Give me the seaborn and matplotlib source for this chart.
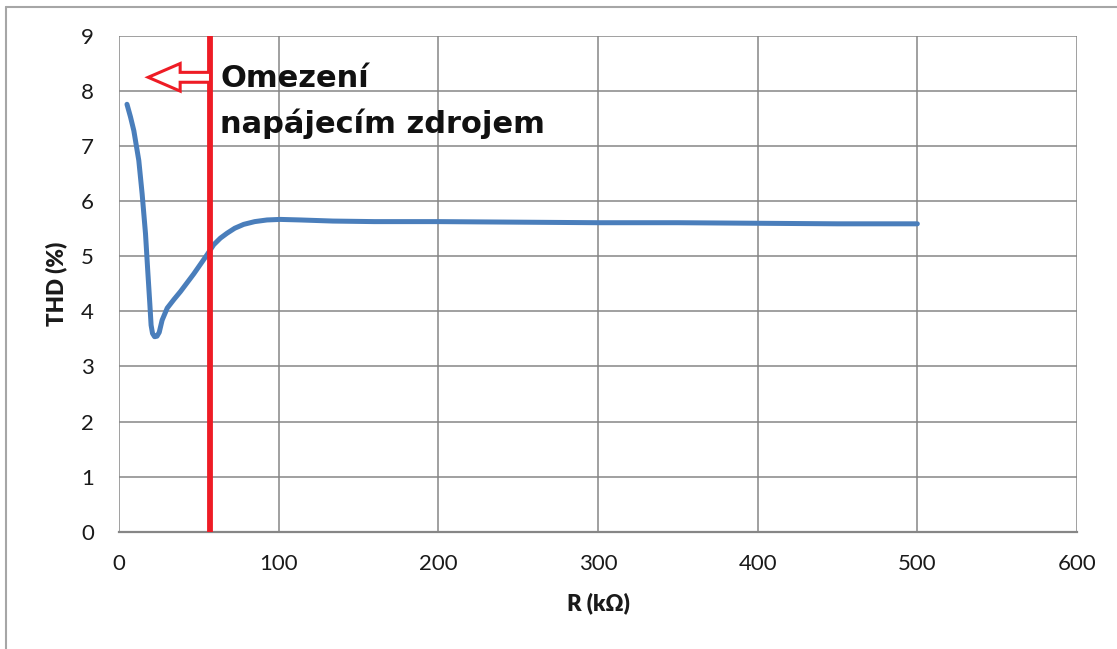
import matplotlib
matplotlib.use("Agg")
import matplotlib.pyplot as plt
from matplotlib.patches import FancyArrow
from matplotlib.lines import Line2D
import pandas as pd
import seaborn as sns

# Measured THD versus load resistance
r_kohm = [5, 7.2, 9.3, 12.4, 14.5, 16.6, 18.0, 19.3, 20.1, 21.0, 22.3, 23.8, 25.2,
          27.0, 30.2, 34.5, 38.5, 46.8, 55.2, 59.3, 63.5, 67.7, 72.5, 78.1, 85, 92.7,
          101, 113.6, 134, 160, 200, 250, 300, 350, 400, 450, 500]
thd_pct = [7.76, 7.53, 7.28, 6.74, 6.13, 5.41, 4.74, 4.14, 3.75, 3.60, 3.54, 3.55, 3.62,
           3.84, 4.06, 4.22, 4.36, 4.68, 5.03, 5.21, 5.33, 5.42, 5.51, 5.58, 5.63, 5.66,
           5.67, 5.66, 5.64, 5.63, 5.63, 5.62, 5.61, 5.61, 5.60, 5.59, 5.59]

x_ticks = [0, 100, 200, 300, 400, 500, 600]
y_ticks = [0, 1, 2, 3, 4, 5, 6, 7, 8, 9]

# Supply limit marker
limit_r = 57.3
arrow_tip_r = 18.3
arrow_level = 8.25
note_lines = ["Omezení", "napájecím zdrojem"]

x_label = "R (kΩ)"
y_label = "THD (%)"

line_blue = "#4a7ebb"
limit_red = "#ee1c25"
grid_gray = "#868686"
text_dark = "#1a1a1a"

sns.set_style("white")
plt.rcParams["font.family"] = ["Lato", "DejaVu Sans"]

fig = plt.figure(figsize=(11.17, 6.49), dpi=100)
ax = fig.add_axes([119 / 1117, 1 - 531.7 / 649, 958 / 1117, (531.7 - 36) / 649])

df = pd.DataFrame({"R": r_kohm, "THD": thd_pct})
sns.lineplot(data=df, x="R", y="THD", ax=ax, color=line_blue, linewidth=3.6,
             estimator=None, sort=True, solid_capstyle="round", solid_joinstyle="round",
             zorder=4)

ax.set_xlim(x_ticks[0], x_ticks[-1])
ax.set_ylim(y_ticks[0], y_ticks[-1])
ax.set_xticks(x_ticks)
ax.set_yticks(y_ticks)
ax.grid(True, color=grid_gray, linewidth=1.1)
ax.set_axisbelow(True)

for side, sp in ax.spines.items():
    sp.set_visible(side == "bottom")
sp = ax.spines["bottom"]
sp.set_color(grid_gray)
sp.set_linewidth(1.6)

ax.tick_params(axis="both", direction="out", length=6, width=1.1, color=grid_gray,
               labelsize=16, labelcolor=text_dark)
ax.tick_params(axis="y", pad=12)
ax.tick_params(axis="x", pad=10)

ax.set_xlabel(x_label, fontsize=16, fontweight="heavy", color=text_dark)
ax.set_ylabel(y_label, fontsize=16, fontweight="heavy", color=text_dark)
ax.xaxis.set_label_coords(0.5, -0.122)
ax.yaxis.set_label_coords(-0.054, 0.5)

# Vertical limit line and hollow arrow pointing to the allowed region
ax.axvline(limit_r, color=limit_red, linewidth=4.2, zorder=5, solid_capstyle="butt")
ax.add_patch(FancyArrow(limit_r, arrow_level, arrow_tip_r - limit_r, 0,
                        width=0.18, head_width=0.50, head_length=20,
                        length_includes_head=True, facecolor="white",
                        edgecolor=limit_red, linewidth=2.2, zorder=6))

ax.text(63.5, 8.08, note_lines[0], fontsize=22, fontweight="bold",
        family=["DejaVu Sans"], va="baseline", ha="left", color="#111111", zorder=7)
ax.text(63.5, 7.24, note_lines[1], fontsize=22, fontweight="bold",
        family=["DejaVu Sans"], va="baseline", ha="left", color="#111111", zorder=7)

# Chart area frame
frame_kw = dict(color="#a6a6a6", linewidth=1.5, transform=fig.transFigure)
fig.add_artist(Line2D([6 / 1117, 1.0], [1 - 7 / 649, 1 - 7 / 649], **frame_kw))
fig.add_artist(Line2D([6 / 1117, 6 / 1117], [0.0, 1 - 7 / 649], **frame_kw))

fig.savefig("out.png", dpi=100)
